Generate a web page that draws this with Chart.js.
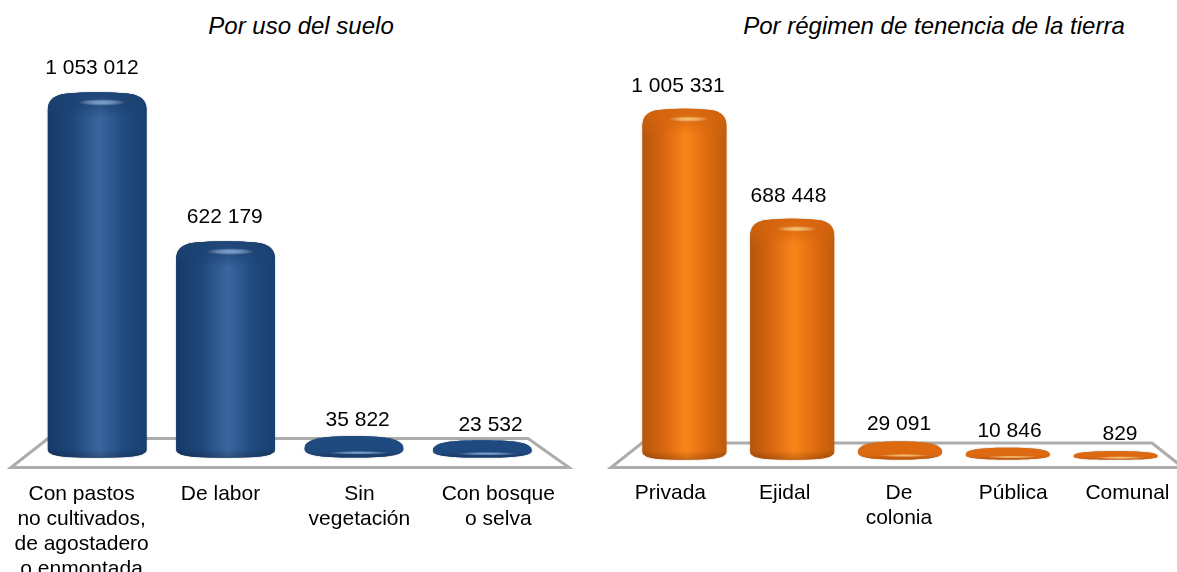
<!DOCTYPE html>
<html>
<head>
<meta charset="utf-8">
<script src="https://cdn.jsdelivr.net/npm/chart.js@4/dist/chart.umd.js"></script>
<style>
html, body { margin: 0; padding: 0; background: #fff; overflow: hidden; }
#page { position: relative; width: 1177px; height: 572px; }
canvas { position: absolute; top: 0; }
.titulo { position: absolute; top: 12px; font: italic 24px "Liberation Sans", Arial, sans-serif; color: #000; white-space: nowrap; transform: translateX(-50%); }
</style>
</head>
<body>
<div id="page">
    <div class="titulo" style="left:301px">Por uso del suelo</div>
    <div class="titulo" style="left:934px">Por régimen de tenencia de la tierra</div>
    <canvas id="uso" width="590" height="572" style="left:0"></canvas>
    <canvas id="tenencia" width="587" height="572" style="left:590px"></canvas>
</div>
<script>
var usoLabels = [['Con pastos', 'no cultivados,', 'de agostadero', 'o enmontada'], 'De labor', ['Sin', 'vegetación'], ['Con bosque', 'o selva']];
var usoValues = [1053012, 622179, 35822, 23532];
var tenenciaLabels = ['Privada', 'Ejidal', ['De', 'colonia'], 'Pública', 'Comunal'];
var tenenciaValues = [1005331, 688448, 29091, 10846, 829];

var azul = ['#173a68', '#1e4679', '#3a669f', '#1f4a80', '#19406f'];
var naranja = ['#b5560b', '#d8660f', '#f98519', '#dd6a10', '#bf5c0a'];

function miles(n) {
    return String(n).replace(/\B(?=(\d{3})+$)/g, ' ');
}

// outline of the cylinder, rounded at top and bottom
function cilindro(ctx, x0, x1, top, bottom) {
    var rx = (x1 - x0) * 0.2;
    var ry = 15;
    var cx = (x0 + x1) / 2;
    ctx.beginPath();
    ctx.moveTo(x0, top + ry + 3);
    ctx.bezierCurveTo(x0, top + 5, x0 + rx * 0.5, top + 2, x0 + rx, top + 1);
    ctx.quadraticCurveTo(cx, top - 1.5, x1 - rx, top + 1);
    ctx.bezierCurveTo(x1 - rx * 0.5, top + 2, x1, top + 5, x1, top + ry + 3);
    ctx.lineTo(x1, bottom - 8);
    ctx.quadraticCurveTo(x1, bottom - 2, x1 - rx, bottom - 0.5);
    ctx.quadraticCurveTo(cx, bottom + 1, x0 + rx, bottom - 0.5);
    ctx.quadraticCurveTo(x0, bottom - 2, x0, bottom - 8);
    ctx.closePath();
}

// flat disc for the very small values
function disco(ctx, x0, x1, top, bottom) {
    var w = x1 - x0;
    var h = bottom - top;
    var cx = (x0 + x1) / 2;
    var my = top + h * 0.6;
    var kx = w * 0.36;
    ctx.beginPath();
    ctx.moveTo(x0, my);
    ctx.bezierCurveTo(x0, my - (my - top) * 0.7, cx - kx, top, cx, top);
    ctx.bezierCurveTo(cx + kx, top, x1, my - (my - top) * 0.7, x1, my);
    ctx.bezierCurveTo(x1, my + (bottom - my) * 0.7, cx + kx, bottom, cx, bottom);
    ctx.bezierCurveTo(cx - kx, bottom, x0, my + (bottom - my) * 0.7, x0, my);
    ctx.closePath();
}

var plugin3d = {
    id: 'plugin3d',
    beforeDatasetsDraw: function (chart, args, opts) {
        var ctx = chart.ctx;
        var f = opts.floor;
        ctx.save();
        ctx.strokeStyle = '#adadad';
        ctx.lineWidth = 3;
        ctx.lineJoin = 'miter';
        ctx.beginPath();
        ctx.moveTo(f.frontL, f.frontY);
        ctx.lineTo(f.backL, f.backY);
        ctx.lineTo(f.backR, f.backY);
        ctx.lineTo(f.frontR, f.frontY);
        ctx.closePath();
        ctx.stroke();
        ctx.restore();
    },
    beforeDatasetDraw: function (chart, args, opts) {
        var ctx = chart.ctx;
        var colors = opts.colors;
        args.meta.data.forEach(function (bar) {
            var x0 = bar.x - bar.width / 2;
            var x1 = bar.x + bar.width / 2;
            var bottom = bar.base + opts.baseDrop;
            var plano = bottom - bar.y < 40;
            var top = plano ? bar.y - opts.cap : bar.y;
            var h = bottom - top;
            var forma = plano ? disco : cilindro;

            ctx.save();
            ctx.shadowColor = 'rgba(0,0,0,0.3)';
            ctx.shadowBlur = 2;
            forma(ctx, x0, x1, top, bottom);
            ctx.fillStyle = colors[1];
            ctx.fill();
            ctx.restore();

            ctx.save();
            forma(ctx, x0, x1, top, bottom);
            ctx.clip();

            if (plano) {
                var gd = ctx.createLinearGradient(0, top, 0, bottom);
                gd.addColorStop(0, colors[3]);
                gd.addColorStop(0.6, colors[3]);
                gd.addColorStop(0.78, colors[1]);
                gd.addColorStop(1, colors[0]);
                ctx.fillStyle = gd;
                ctx.fillRect(x0, top - 1, x1 - x0, h + 2);

                ctx.translate(bar.x + bar.width * 0.05, bottom - h * 0.22);
                ctx.scale(1, 0.06);
                var rd = bar.width * 0.3;
                var gl = ctx.createRadialGradient(0, 0, 0, 0, 0, rd);
                gl.addColorStop(0, opts.glow);
                gl.addColorStop(1, 'rgba(255,255,255,0)');
                ctx.fillStyle = gl;
                ctx.fillRect(-rd, -rd, rd * 2, rd * 2);
            } else {
                var g = ctx.createLinearGradient(x0, 0, x1, 0);
                g.addColorStop(0, colors[0]);
                g.addColorStop(0.25, colors[1]);
                g.addColorStop(0.52, colors[2]);
                g.addColorStop(0.78, colors[3]);
                g.addColorStop(1, colors[4]);
                ctx.fillStyle = g;
                ctx.fillRect(x0, top - 2, x1 - x0, h + 4);

                // the cap: a flat darker band fading into the body
                var gt = ctx.createLinearGradient(0, top, 0, top + 26);
                gt.addColorStop(0, opts.rim + 'e6');
                gt.addColorStop(0.45, opts.rim + 'a0');
                gt.addColorStop(1, opts.rim + '00');
                ctx.fillStyle = gt;
                ctx.fillRect(x0, top - 2, x1 - x0, 28);

                var gb = ctx.createLinearGradient(0, bottom - 9, 0, bottom);
                gb.addColorStop(0, 'rgba(0,0,0,0)');
                gb.addColorStop(1, 'rgba(0,0,0,0.2)');
                ctx.fillStyle = gb;
                ctx.fillRect(x0, bottom - 9, x1 - x0, 11);

                // soft highlight under the cap
                ctx.translate(bar.x + bar.width * 0.05, top + 10);
                ctx.scale(1, 0.14);
                var r = bar.width * 0.24;
                var gh = ctx.createRadialGradient(0, 0, 0, 0, 0, r);
                gh.addColorStop(0, opts.glow);
                gh.addColorStop(1, 'rgba(255,255,255,0)');
                ctx.fillStyle = gh;
                ctx.fillRect(-r, -r, r * 2, r * 2);
            }
            ctx.restore();
        });
        return false;
    },
    afterDatasetsDraw: function (chart, args, opts) {
        var ctx = chart.ctx;
        var values = chart.data.datasets[0].data;
        var mid = (chart.chartArea.left + chart.chartArea.right) / 2;
        ctx.save();
        ctx.font = '21px "Liberation Sans", Arial, sans-serif';
        ctx.fillStyle = '#000';
        ctx.textAlign = 'center';
        ctx.textBaseline = 'middle';
        chart.getDatasetMeta(0).data.forEach(function (bar, i) {
            var x = mid + opts.valueShift + (bar.x - mid) * opts.valueSpread;
            ctx.fillText(miles(values[i]), x, bar.y - opts.labelGap);
        });
        ctx.restore();
    }
};

function crearGrafica(id, labels, values, colors, conf) {
    return new Chart(document.getElementById(id), {
        type: 'bar',
        data: {
            labels: labels,
            datasets: [{
                data: values,
                backgroundColor: colors[2],
                categoryPercentage: 1,
                barPercentage: conf.barPct
            }]
        },
        options: {
            responsive: false,
            animation: false,
            layout: { padding: { left: conf.padL, right: conf.padR, top: 0, bottom: 0 } },
            plugins: {
                legend: { display: false },
                title: { display: false },
                tooltip: { enabled: false },
                plugin3d: {
                    colors: colors,
                    floor: conf.floor,
                    cap: conf.cap,
                    baseDrop: conf.baseDrop,
                    labelGap: conf.labelGap,
                    valueSpread: conf.valueSpread,
                    valueShift: conf.valueShift,
                    glow: conf.glow,
                    rim: conf.rim
                }
            },
            scales: {
                y: { display: false, min: 0, max: conf.yMax },
                x: {
                    grid: { display: false },
                    border: { display: false },
                    ticks: {
                        color: '#000',
                        maxRotation: 0,
                        autoSkip: false,
                        padding: conf.tickPad,
                        font: { family: '"Liberation Sans", Arial, sans-serif', size: 21, lineHeight: 1.19 }
                    },
                    afterFit: function (scale) {
                        scale.height = conf.axisH;
                    },
                    // the labels sit a bit wider apart than the bars
                    afterUpdate: function (scale) {
                        var mid = (scale.left + scale.right) / 2;
                        var original = Object.getPrototypeOf(scale).getPixelForTick;
                        scale.getPixelForTick = function (i) {
                            return mid + conf.labelShift + (original.call(scale, i) - mid) * conf.labelSpread;
                        };
                    }
                }
            }
        },
        plugins: [plugin3d]
    });
}

crearGrafica('uso', usoLabels, usoValues, azul, {
    barPct: 0.77, padL: 33, padR: 43.5, yMax: 1320000, axisH: 115, tickPad: 17,
    cap: 8.5, baseDrop: 0.5, labelGap: 24, labelSpread: 1.082, labelShift: -2.5,
    valueSpread: 1.035, valueShift: 1.5,
    glow: 'rgba(120,170,230,0.9)', rim: '#1b4272',
    floor: { frontL: 11, frontR: 569, frontY: 467.5, backL: 48, backR: 528, backY: 438.5 }
});
crearGrafica('tenencia', tenenciaLabels, tenenciaValues, naranja, {
    barPct: 0.78, padL: 40.5, padR: 7.5, yMax: 1320000, axisH: 114.5, tickPad: 15.5,
    cap: 6, baseDrop: 2, labelGap: 23, labelSpread: 1.06, labelShift: -3.5,
    valueSpread: 1.025, valueShift: -1,
    glow: 'rgba(255,200,90,0.95)', rim: '#d4640d',
    floor: { frontL: 21, frontR: 593, frontY: 467.5, backL: 52, backR: 562, backY: 443 }
});
</script>
</body>
</html>
